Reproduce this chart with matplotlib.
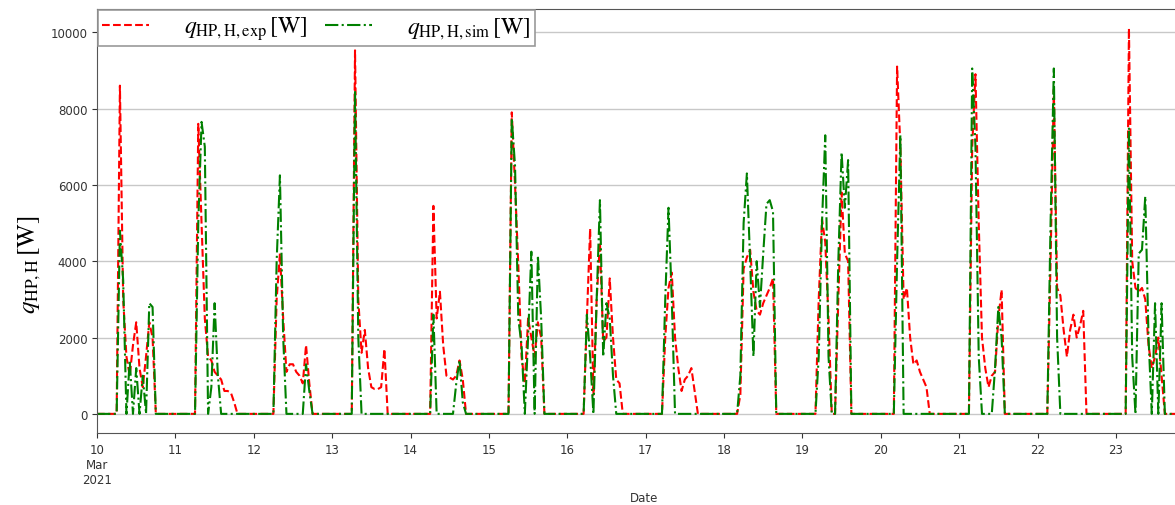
import numpy as np
import pandas as pd
import matplotlib
matplotlib.use("Agg")
import matplotlib.pyplot as plt
import matplotlib.dates as mdates
from matplotlib.ticker import FuncFormatter

plt.rcParams['mathtext.fontset'] = 'stix'

# hourly values (hours 0..23) per day, W
exp_d10 = [0,0,0,0,0,0,0,8600,3000,1500,1000,1800,2400,1200,700,1500,2400,2000,0,0,0,0,0,0]
sim_d10 = [0,0,0,0,0,0,0,4800,3500,0,1400,0,1200,0,1000,0,2900,2800,0,0,0,0,0,0]
exp_d11 = [0,0,0,0,0,0,0,7600,5000,2500,1500,1400,1100,1000,900,600,600,550,300,0,0,0,0,0]
sim_d11 = [0,0,0,0,0,0,0,5000,7650,7000,0,700,2900,1000,0,0,0,0,0,0,0,0,0,0]
exp_d12 = [0,0,0,0,0,0,0,3000,4200,2500,1100,1300,1300,1100,1000,800,1800,800,0,0,0,0,0,0]
sim_d12 = [0,0,0,0,0,0,0,4000,6250,2000,0,0,0,0,0,0,1300,600,0,0,0,0,0,0]
exp_d13 = [0,0,0,0,0,0,0,9525,3000,1600,2200,1200,700,650,650,700,1700,0,0,0,0,0,0,0]
sim_d13 = [0,0,0,0,0,0,0,8470,2000,0,0,0,0,0,0,0,0,0,0,0,0,0,0,0]
exp_d14 = [0,0,0,0,0,0,0,5450,2500,3200,1800,1000,950,900,1000,1400,900,0,0,0,0,0,0,0]
sim_d14 = [0,0,0,0,0,0,0,2600,0,0,0,0,0,0,800,1400,300,0,0,0,0,0,0,0]
exp_d15 = [0,0,0,0,0,0,0,7900,6000,3900,1500,800,2500,2000,1500,2400,2000,0,0,0,0,0,0,0]
sim_d15 = [0,0,0,0,0,0,0,7750,6500,2500,1800,0,2000,4250,0,4150,2500,0,0,0,0,0,0,0]
exp_d16 = [0,0,0,0,0,0,2500,4850,500,3000,4500,1900,2000,3550,2000,900,800,0,0,0,0,0,0,0]
sim_d16 = [0,0,0,0,0,0,2600,1500,0,3000,5600,1500,2900,2500,1000,0,0,0,0,0,0,0,0,0]
exp_d17 = [0,0,0,0,0,0,2000,3300,3700,2000,1200,600,900,1000,1200,600,0,0,0,0,0,0,0,0]
sim_d17 = [0,0,0,0,0,0,3000,5400,3000,0,0,0,0,0,0,0,0,0,0,0,0,0,0,0]
exp_d18 = [0,0,0,0,0,500,3800,4100,4300,3200,2700,2600,2900,3100,3300,3550,0,0,0,0,0,0,0,0]
sim_d18 = [0,0,0,0,0,1000,5000,6300,4000,1500,4000,2800,4200,5500,5600,5300,0,0,0,0,0,0,0,0]
exp_d19 = [0,0,0,0,0,3000,5100,4500,2500,0,0,3000,5800,4200,4000,0,0,0,0,0,0,0,0,0]
sim_d19 = [0,0,0,0,0,1500,5000,7300,1500,0,0,4000,6850,5400,6650,0,0,0,0,0,0,0,0,0]
exp_d20 = [0,0,0,0,0,9100,7000,3000,3300,2000,1300,1400,1100,900,700,0,0,0,0,0,0,0,0,0]
sim_d20 = [0,0,0,0,0,4000,7300,0,0,0,0,0,0,0,0,0,0,0,0,0,0,0,0,0]
exp_d21 = [0,0,0,0,7000,8900,5000,2000,1200,700,1000,1100,2500,3250,0,0,0,0,0,0,0,0,0,0]
sim_d21 = [0,0,0,0,9050,7000,1500,0,0,0,0,1200,2800,2000,0,0,0,0,0,0,0,0,0,0]
exp_d22 = [0,0,0,0,4000,8500,3300,3100,2200,1500,2200,2600,2000,2300,2700,0,0,0,0,0,0,0,0,0]
sim_d22 = [0,0,0,0,5000,9050,2000,0,0,0,0,0,0,0,0,0,0,0,0,0,0,0,0,0]
exp_d23 = [0,0,0,0,10100,4000,3300,3200,3300,3000,1800,1200,1500,2000,1000,0,0,0,0,0,0,0,0,0]
sim_d23 = [0,0,0,0,7500,1500,0,4200,4300,5700,2000,0,2900,0,2900,0,0,0,0,0,0,0,0,0]

exp_days = [exp_d10, exp_d11, exp_d12, exp_d13, exp_d14, exp_d15, exp_d16,
            exp_d17, exp_d18, exp_d19, exp_d20, exp_d21, exp_d22, exp_d23]
sim_days = [sim_d10, sim_d11, sim_d12, sim_d13, sim_d14, sim_d15, sim_d16,
            sim_d17, sim_d18, sim_d19, sim_d20, sim_d21, sim_d22, sim_d23]

q_exp = np.concatenate(exp_days)
q_sim = np.concatenate(sim_days)
times = pd.date_range('2021-03-10', periods=len(q_exp), freq='h')

label_exp = r'$q_{\mathrm{HP,H,exp}}\,[\mathrm{W}]$'
label_sim = r'$q_{\mathrm{HP,H,sim}}\,[\mathrm{W}]$'
ylabel = r'$q_{\mathrm{HP,H}}\,[\mathrm{W}]$'

fig = plt.figure(figsize=(11.75, 5.06), dpi=100)
ax = fig.add_axes([0.0826, 0.142, 0.931, 0.838])

ax.plot(times, q_exp, color='red', linestyle='--', linewidth=1.5, label=label_exp)
ax.plot(times, q_sim, color='green', linestyle='-.', linewidth=1.5, label=label_sim)

ax.set_xlim(times[0], times[-1])
ax.set_yticks([0, 2000, 4000, 6000, 8000, 10000])
ax.yaxis.grid(True, color='#c8c8c8', linewidth=1.0)
ax.set_axisbelow(True)

ax.xaxis.set_major_locator(mdates.DayLocator())
def fmt(x, pos):
    d = mdates.num2date(x)
    if d.day == 10:
        return '10\nMar\n2021'
    return str(d.day)
ax.xaxis.set_major_formatter(FuncFormatter(fmt))

ax.tick_params(axis='both', labelsize=8.5, colors='#333333')
for s in ax.spines.values():
    s.set_color('#555555')

ax.set_xlabel('Date', fontsize=8.5, color='#333333')
ax.set_ylabel(ylabel, fontsize=18)
ax.yaxis.set_label_coords(-0.049, 0.40)

leg = ax.legend(loc='upper left', ncol=2, fontsize=17, fancybox=False,
                edgecolor='#999999', framealpha=1.0, borderaxespad=0.05,
                handlelength=2.0, columnspacing=0.7, handletextpad=1.5,
                borderpad=0.15)
leg.get_frame().set_linewidth(1.2)

fig.savefig('out.png', dpi=100)
